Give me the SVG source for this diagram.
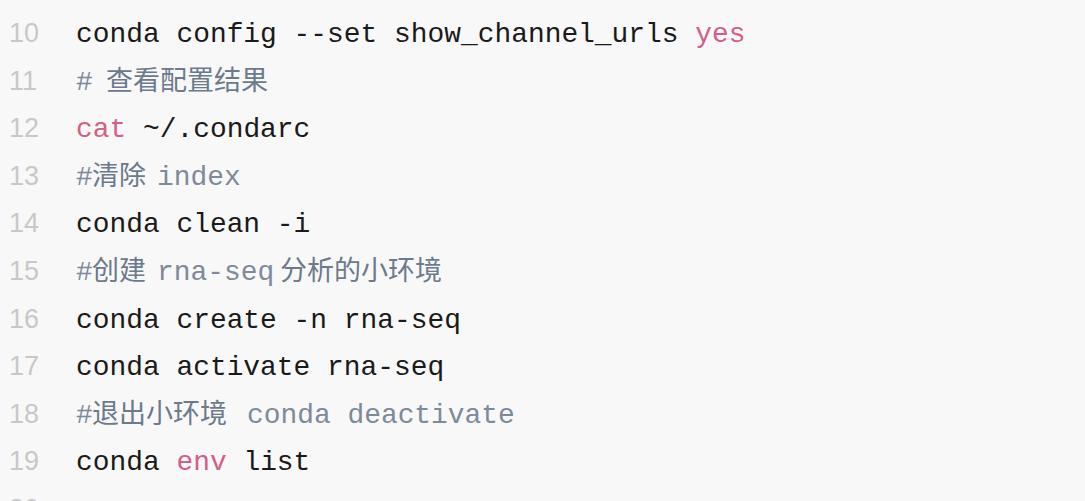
<svg xmlns="http://www.w3.org/2000/svg" width="1085" height="501" viewBox="0 0 1085 501">
<style>
.n{font-family:"Liberation Sans","DejaVu Sans",sans-serif;font-size:27px;fill:#c8c8c8}
.c{font-family:"Liberation Mono","DejaVu Sans Mono",monospace;font-size:27.9px;fill:#1a1a1a}
.k{fill:#d45f86}
.g{fill:#7d8a9a}
.z{font-family:"Noto Sans CJK SC",sans-serif;font-size:27px;fill:#6b7a8c;font-weight:400}
</style>
<rect width="1085" height="501" fill="#f8f8f8"/>
<g id="numbers">
<text class="n" x="9" y="42">10</text>
<text class="n" x="9" y="90">11</text>
<text class="n" x="9" y="137">12</text>
<text class="n" x="9" y="185">13</text>
<text class="n" x="9" y="232">14</text>
<text class="n" x="9" y="280">15</text>
<text class="n" x="9" y="328">16</text>
<text class="n" x="9" y="375">17</text>
<text class="n" x="9" y="423">18</text>
<text class="n" x="9" y="470">19</text>
<text class="n" x="9" y="518">20</text>
</g>
<g id="code">
<text class="c" x="76" y="42">conda config --set show_channel_urls <tspan class="k">yes</tspan></text>
<text class="c g" x="76" y="90">#</text><text class="z" x="106" y="90">查看配置结果</text>
<text class="c" x="76" y="137"><tspan class="k">cat</tspan> ~/.condarc</text>
<text class="c g" x="76" y="185">#</text><text class="z" x="92" y="185">清除</text><text class="c g" x="157" y="185">index</text>
<text class="c" x="76" y="232">conda clean -i</text>
<text class="c g" x="76" y="280">#</text><text class="z" x="92" y="280">创建</text><text class="c g" x="157" y="280">rna-seq</text><text class="z" x="280" y="280">分析的小环境</text>
<text class="c" x="76" y="328">conda create -n rna-seq</text>
<text class="c" x="76" y="375">conda activate rna-seq</text>
<text class="c g" x="76" y="423">#</text><text class="z" x="92" y="423">退出小环境</text><text class="c g" x="247" y="423">conda deactivate</text>
<text class="c" x="76" y="470">conda <tspan class="k">env</tspan> list</text>
</g>
</svg>
